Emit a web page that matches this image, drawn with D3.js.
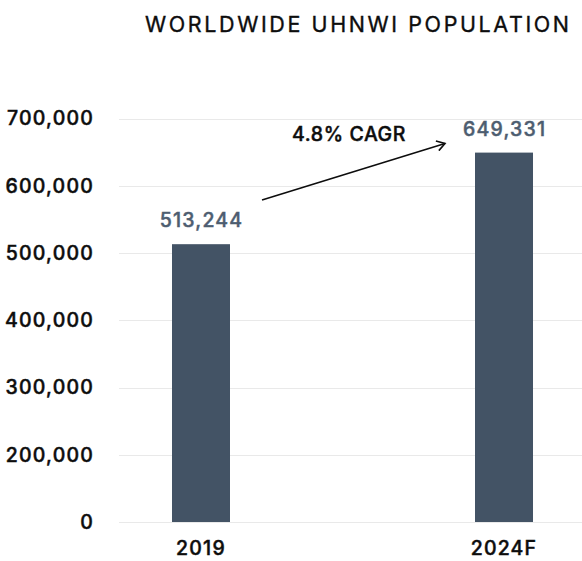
<!DOCTYPE html>
<html>
<head>
<meta charset="utf-8">
<script src="https://cdn.jsdelivr.net/npm/d3@7"></script>
<style>
  html, body { margin: 0; padding: 0; background: #fff; }
  svg { display: block; }
  text { font-family: "Inter", sans-serif; }
</style>
</head>
<body>
<div id="chart"></div>
<script>
// Worldwide ultra-high-net-worth population, 2019 vs 2024 forecast
const categories = ["2019", "2024F"];
const population = [513244, 649331];
const tickValues = [0, 200000, 300000, 400000, 500000, 600000, 700000];
const tickLabels = ["0", "200,000", "300,000", "400,000", "500,000", "600,000", "700,000"];
const chartTitle = "WORLDWIDE UHNWI POPULATION";
const growthNote = "4.8% CAGR";

const W = 582, H = 561;
const barColor = "#435365";
const valueColor = "#4d5d70";
const gridColor = "#e9e9e9";
const inkColor = "#0d0d0d";
const labelFont = "Inter, sans-serif";

const svg = d3.select("#chart").append("svg")
  .attr("width", W).attr("height", H);

// Value axis is broken between 0 and 200,000: the first step covers the same
// height as each 100,000 step above it.
const y = d3.scaleLinear()
  .domain([0, 200000, 700000])
  .range([522, 455, 118.5]);

const x = d3.scaleBand()
  .domain(categories)
  .range([120, 585])
  .paddingInner(0.8086)
  .paddingOuter(0.1716);

function styleLabels(sel, color) {
  sel.attr("font-size", 19.5)
    .attr("font-weight", 500)
    .attr("letter-spacing", 1.2)
    .attr("fill", color)
    .attr("stroke", color)
    .attr("stroke-width", 0.45)
    .attr("font-family", labelFont);
}

// Gridlines
svg.append("g")
  .selectAll("line")
  .data(tickValues)
  .join("line")
  .attr("x1", 119).attr("x2", W)
  .attr("y1", d => Math.round(y(d)) + 0.5)
  .attr("y2", d => Math.round(y(d)) + 0.5)
  .attr("stroke", gridColor)
  .attr("stroke-width", 1);

// Y axis labels
const yAxis = d3.axisLeft(y)
  .tickValues(tickValues)
  .tickFormat((d, i) => tickLabels[i])
  .tickSize(0)
  .tickPadding(0);

svg.append("g")
  .attr("transform", "translate(94,0)")
  .call(yAxis)
  .call(g => g.select(".domain").remove())
  .call(g => g.selectAll("text").call(styleLabels, inkColor));

// X axis labels
const xAxis = d3.axisBottom(x).tickSize(0).tickPadding(0);
svg.append("g")
  .attr("transform", "translate(0,541)")
  .call(xAxis)
  .call(g => g.select(".domain").remove())
  .call(g => g.selectAll("text").call(styleLabels, inkColor));

// Bars
svg.append("g")
  .selectAll("rect")
  .data(population)
  .join("rect")
  .attr("x", (d, i) => x(categories[i]))
  .attr("width", x.bandwidth())
  .attr("y", d => y(d))
  .attr("height", d => y(0) - y(d))
  .attr("fill", barColor);

// Value labels
svg.append("g")
  .selectAll("text")
  .data(population)
  .join("text")
  .attr("x", (d, i) => x(categories[i]) + x.bandwidth() / 2 + 0.6)
  .attr("y", d => y(d) - 17)
  .attr("text-anchor", "middle")
  .call(styleLabels, valueColor)
  .text(d => d3.format(",")(d));

// Title
svg.append("text")
  .attr("x", 145).attr("y", 32)
  .attr("font-family", "DejaVu Sans, sans-serif")
  .attr("font-size", 21.5)
  .attr("font-weight", 400)
  .attr("fill", inkColor)
  .attr("stroke", inkColor)
  .attr("stroke-width", 0.35)
  .attr("textLength", 424)
  .attr("lengthAdjust", "spacing")
  .text(chartTitle);

// Growth arrow between the two value labels
const arrowStart = [262, 200];
const arrowEnd = [445, 143.5];
svg.append("defs").append("marker")
  .attr("id", "chev")
  .attr("viewBox", "0 0 12 12")
  .attr("refX", 10).attr("refY", 6)
  .attr("markerWidth", 12).attr("markerHeight", 12)
  .attr("markerUnits", "userSpaceOnUse")
  .attr("orient", "auto")
  .append("path")
  .attr("d", "M2,1 L10,6 L2,11")
  .attr("fill", "none")
  .attr("stroke", inkColor)
  .attr("stroke-width", 1.6);

svg.append("line")
  .attr("x1", arrowStart[0]).attr("y1", arrowStart[1])
  .attr("x2", arrowEnd[0]).attr("y2", arrowEnd[1])
  .attr("stroke", inkColor)
  .attr("stroke-width", 1.6)
  .attr("marker-end", "url(#chev)");

svg.append("text")
  .attr("x", 292).attr("y", 141)
  .attr("font-family", labelFont)
  .attr("font-size", 19.5)
  .attr("font-weight", 500)
  .attr("letter-spacing", 0.6)
  .attr("fill", inkColor)
  .attr("stroke", inkColor)
  .attr("stroke-width", 0.45)
  .text(growthNote);
</script>
</body>
</html>
